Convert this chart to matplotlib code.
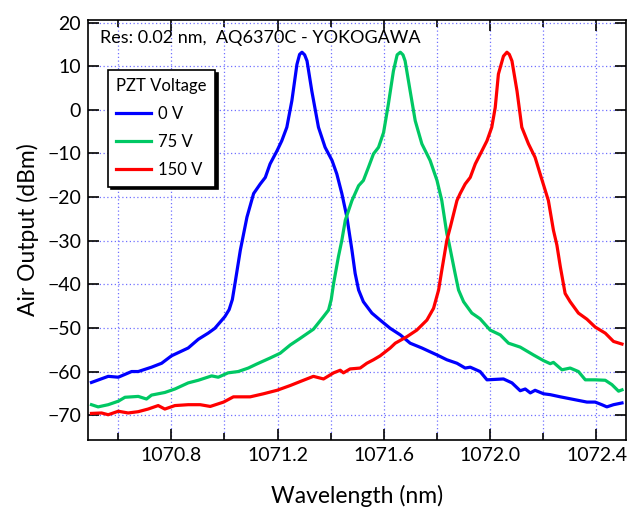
# importamos librerias
import numpy as np
import matplotlib.pyplot as plt
from matplotlib.ticker import MultipleLocator

x_0v = [1070.500, 1070.563, 1070.601, 1070.651, 1070.676, 1070.726, 1070.764, 1070.801,
        1070.864, 1070.902, 1070.939, 1070.964, 1071.002, 1071.018, 1071.030, 1071.040, 1071.060,
        1071.085, 1071.110, 1071.135, 1071.154, 1071.172, 1071.198, 1071.216, 1071.235,
        1071.254, 1071.273, 1071.283, 1071.292, 1071.302, 1071.311, 1071.329, 1071.354,
        1071.379, 1071.405, 1071.423, 1071.442, 1071.461, 1071.480, 1071.492, 1071.505,
        1071.523, 1071.555, 1071.586, 1071.624, 1071.662, 1071.699, 1071.743, 1071.800,
        1071.837, 1071.875, 1071.906, 1071.925, 1071.962, 1071.988, 1072.050, 1072.082,
        1072.113, 1072.132, 1072.151, 1072.169, 1072.201, 1072.226, 1072.264, 1072.314,
        1072.364, 1072.395, 1072.420, 1072.439, 1072.464, 1072.496]
y_0v = [-62.5, -61.1, -61.3, -60.0, -60.0, -59.0, -58.1, -56.4,
        -54.6, -52.6, -51.2, -50.1, -47.4, -45.8, -43.5, -39.8, -32.2,
        -24.6, -19.2, -17.0, -15.5, -12.4, -9.4, -7.1, -4.0,
        2.1, 10.4, 12.7, 13.2, 12.6, 11.2, 4.3, -4.0,
        -8.6, -11.6, -14.7, -19.2, -24.6, -32.2, -37.5, -41.3,
        -44.0, -46.6, -48.2, -50.1, -51.6, -53.5, -54.6, -56.2,
        -57.3, -58.1, -59.2, -59.0, -60.0, -61.9, -61.7, -62.6,
        -64.4, -64.0, -64.9, -64.3, -65.1, -65.3, -65.8, -66.4,
        -67.0, -67.0, -67.6, -68.1, -67.6, -67.2]

x_75v = [1070.500, 1070.525, 1070.563, 1070.601, 1070.626, 1070.676, 1070.707, 1070.726,
         1070.776, 1070.814, 1070.864, 1070.902, 1070.952, 1070.977, 1071.014, 1071.052,
         1071.090, 1071.121, 1071.172, 1071.210, 1071.248, 1071.285, 1071.335, 1071.373,
         1071.392, 1071.402, 1071.411, 1071.429, 1071.442, 1071.455, 1071.480, 1071.505, 1071.523,
         1071.542, 1071.561, 1071.580, 1071.599, 1071.617, 1071.636, 1071.650, 1071.662,
         1071.672, 1071.680, 1071.699, 1071.718, 1071.743, 1071.774, 1071.800, 1071.818,
         1071.837, 1071.843, 1071.868, 1071.881, 1071.900, 1071.931, 1071.962, 1072.000,
         1072.038, 1072.069, 1072.113, 1072.163, 1072.201, 1072.226, 1072.238, 1072.270,
         1072.301, 1072.332, 1072.358, 1072.395, 1072.433, 1072.458, 1072.483, 1072.496]
y_75v = [-67.6, -68.1, -67.6, -66.8, -65.9, -65.7, -66.3, -65.4,
         -64.8, -64.0, -62.6, -62.0, -61.0, -61.3, -60.3, -60.0,
         -59.2, -58.3, -56.9, -55.8, -53.9, -52.4, -50.3, -47.4,
         -45.9, -43.5, -39.8, -33.7, -29.9, -25.3, -20.8, -17.4, -16.2,
         -13.2, -10.1, -8.6, -5.2, 1.3, 8.9, 12.6, 13.2,
         12.6, 11.2, 4.3, -2.5, -7.8, -11.6, -16.2, -20.8,
         -28.4, -29.9, -37.5, -41.3, -44.0, -46.6, -47.9, -50.5,
         -51.6, -53.5, -54.4, -56.2, -57.5, -58.2, -57.9, -59.6,
         -59.2, -60.0, -61.9, -61.9, -62.0, -63.0, -64.5, -64.2]

x_150v = [1070.500, 1070.538, 1070.563, 1070.601, 1070.638, 1070.676, 1070.713, 1070.751,
          1070.776, 1070.814, 1070.864, 1070.909, 1070.947, 1070.997, 1071.034, 1071.097,
          1071.147, 1071.198, 1071.248, 1071.285, 1071.335, 1071.373, 1071.411, 1071.436,
          1071.448, 1071.473, 1071.511, 1071.536, 1071.561, 1071.586, 1071.624, 1071.643,
          1071.687, 1071.724, 1071.762, 1071.787, 1071.806, 1071.818, 1071.837, 1071.850,
          1071.875, 1071.887, 1071.906, 1071.925, 1071.944, 1071.969, 1071.988, 1072.006,
          1072.019, 1072.031, 1072.050, 1072.063, 1072.072, 1072.082, 1072.101, 1072.119,
          1072.144, 1072.169, 1072.188, 1072.219, 1072.238, 1072.251, 1072.264, 1072.282,
          1072.301, 1072.332, 1072.364, 1072.395, 1072.433, 1072.464, 1072.496]
y_150v = [-69.6, -69.5, -69.9, -69.1, -69.5, -69.2, -68.6, -67.8,
          -68.6, -67.8, -67.6, -67.6, -68.0, -67.0, -65.8, -65.8,
          -65.1, -64.3, -63.2, -62.3, -61.1, -61.7, -60.3, -59.7,
          -60.3, -59.4, -59.2, -58.1, -57.3, -56.4, -54.6, -53.5,
          -52.0, -50.5, -48.2, -45.5, -41.3, -36.8, -29.9, -26.9,
          -20.8, -19.2, -17.0, -15.5, -12.4, -9.4, -7.1, -4.0,
          0.5, 8.2, 12.3, 13.2, 12.7, 11.2, 4.3, -4.0,
          -7.8, -10.9, -14.7, -20.8, -27.6, -31.0, -36.0, -42.1,
          -44.0, -46.6, -48.0, -49.8, -51.2, -53.1, -53.7]

etiquetas = ['0 V', '75 V', '150 V']
colores = ['#0000ff', '#00c864', '#ff0000']

plt.rcParams['font.family'] = ['Lato', 'DejaVu Sans']

fig = plt.figure(figsize=(6.35, 5.07), dpi=100)
ax = fig.add_axes([0.1386, 0.1321, 0.8468, 0.8294])

series = [(x_0v, y_0v), (x_75v, y_75v), (x_150v, y_150v)]
for (xs, ys), lab, col in zip(series, etiquetas, colores):
    ax.plot(xs, ys, color=col, lw=2.3, label=lab, zorder=3)

ax.set_xlim(1070.487, 1072.51)
ax.set_ylim(-75.7, 20.7)

ax.xaxis.set_major_locator(MultipleLocator(0.4))
ax.xaxis.set_minor_locator(MultipleLocator(0.2))
ax.yaxis.set_major_locator(MultipleLocator(10))
ax.set_xticks(np.arange(1070.8, 1072.5, 0.4))
ax.set_xticklabels(['1070.8', '1071.2', '1071.6', '1072.0', '1072.4'])

ax.grid(which='both', axis='x', color='#7070ff', ls=(0, (1, 2)), lw=0.9)
ax.grid(which='major', axis='y', color='#7070ff', ls=(0, (1, 2)), lw=0.9)

ax.tick_params(which='major', direction='in', length=8, width=1.2,
               top=True, right=True, labelsize=14, pad=5)
ax.tick_params(which='minor', direction='in', length=5, width=1.2,
               top=True, right=True)
for s in ax.spines.values():
    s.set_linewidth(1.2)

ax.set_xlabel('Wavelength (nm)', fontsize=16.5, labelpad=15)
ax.set_ylabel('Air Output (dBm)', fontsize=16.5, labelpad=6)

ax.text(0.022, 0.956, 'Res: 0.02 nm,  AQ6370C - YOKOGAWA', transform=ax.transAxes,
        fontsize=13, va='center', ha='left')

leg = ax.legend(title='PZT Voltage', loc='upper left', bbox_to_anchor=(0.037, 0.880),
                borderaxespad=0, fontsize=12, title_fontsize=12, frameon=True,
                fancybox=False, shadow={'color': 'black', 'alpha': 1}, edgecolor='black',
                framealpha=1, handlelength=2.1, labelspacing=0.72,
                borderpad=0.5, alignment='left', handletextpad=0.4)
leg.get_frame().set_linewidth(1.2)

fig.savefig('out.png', dpi=100)
